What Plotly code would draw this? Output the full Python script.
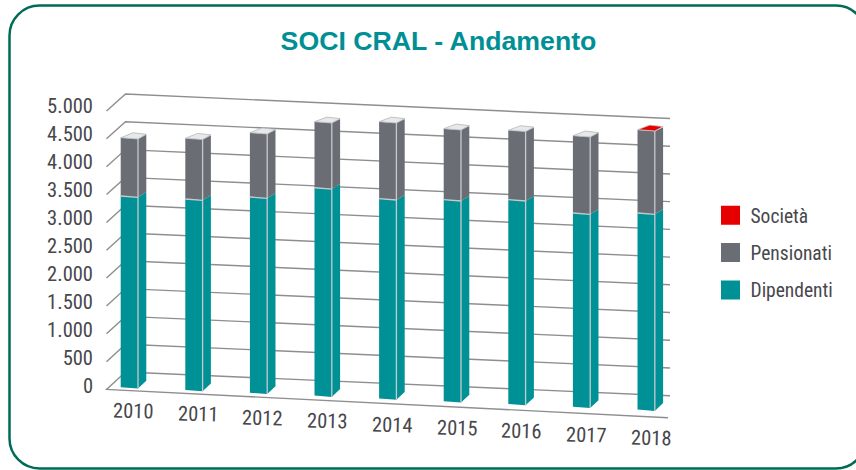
import plotly.graph_objects as go

# ---- data ----
categories = ["2010", "2011", "2012", "2013", "2014", "2015", "2016", "2017", "2018"]
dipendenti = [3433, 3429, 3515, 3732, 3585, 3618, 3668, 3479, 3530]
pensionati = [1046, 1090, 1155, 1185, 1383, 1274, 1246, 1388, 1490]
societa = [0, 0, 0, 0, 0, 0, 0, 0, 6]
axis_ticks = list(range(0, 5001, 500))

TEAL, GREY, RED = "#009196", "#6a6e74", "#e60000"
TEXT = "#47474c"
FONT = "Roboto Condensed, Roboto"
W, H = 856, 470
L, R, T, B = 94, 675, 80, 445      # plot area in page pixels
STEP, X0 = 64.6, 129.35            # pixels per category, centre of the first
VK = 0.056                         # pixels per unit on the value axis
Y0 = 386.0


def ax_x(px):
    return (px - X0) / STEP


def ax_y(py):
    return (Y0 - py) / VK


# pseudo-3D projection: floor and walls of the box
def wall_lines():
    xs, ys = [], []
    for v in axis_ticks:
        front = 389.5 - 0.0557 * v
        back_l = 372.0 - 0.0556 * v
        back_r = 395.7 - 0.05544 * v
        xs += [ax_x(106.5), ax_x(125.5), ax_x(670), None]
        ys += [ax_y(front), ax_y(back_l), ax_y(back_r), None]
    xs += [ax_x(105.5), ax_x(668)]
    ys += [ax_y(389.4), ax_y(417.7)]
    return xs, ys


BAR_W = 17.3
BAR_K = 0.0557


def bar_left(i):
    return 120.7 + STEP * i


def bar_base(i):
    return 387.2 + 2.8 * i


def side_dy(v):
    return -7.8 + 0.00075 * v


def front_y(i, v, right=False):
    return bar_base(i) - BAR_K * v + (1.3 if right else 0.0)


def segment(i, v0, v1):
    """Front and side faces of one stacked block."""
    x0, x1 = bar_left(i), bar_left(i) + BAR_W
    x2 = x1 + 8.3
    front = [(x0, front_y(i, v0)), (x1, front_y(i, v0, True)),
             (x1, front_y(i, v1, True)), (x0, front_y(i, v1)), (x0, front_y(i, v0))]
    side = [(x1, front_y(i, v0, True)), (x2, front_y(i, v0, True) + side_dy(v0)),
            (x2, front_y(i, v1, True) + side_dy(v1)), (x1, front_y(i, v1, True)),
            (x1, front_y(i, v0, True))]
    return front, side


def top_face(i, v):
    x0, x1 = bar_left(i), bar_left(i) + BAR_W
    dy = side_dy(v)
    return [(x0, front_y(i, v)), (x1, front_y(i, v, True)),
            (x1 + 8.3, front_y(i, v, True) + dy - 0.3),
            (x0 + 12.3, front_y(i, v) + dy - 0.5), (x0, front_y(i, v))]


def poly_trace(polys, color, line_color=None, line_w=0.0):
    xs, ys = [], []
    for p in polys:
        xs += [ax_x(a) for a, _ in p] + [None]
        ys += [ax_y(b) for _, b in p] + [None]
    return go.Scatter(x=xs, y=ys, mode="lines", fill="toself", fillcolor=color,
                      line=dict(color=line_color or color, width=line_w),
                      showlegend=False, hoverinfo="skip")


fig = go.Figure()

# walls
wx, wy = wall_lines()
fig.add_trace(go.Scatter(x=wx, y=wy, mode="lines", line=dict(color="#8e8e90", width=1.4),
                         showlegend=False, hoverinfo="skip"))

# bars
for i, year in enumerate(categories):
    d, p, s = dipendenti[i], pensionati[i], societa[i]
    fd, sd = segment(i, 0, d)
    fp, sp = segment(i, d, d + p)
    fig.add_trace(poly_trace([fd, sd], TEAL))
    fig.add_trace(poly_trace([fp, sp], GREY))
    top = d + p + s
    if s > 0:
        fig.add_trace(poly_trace([top_face(i, top)], RED, "#c9ccd0", 0.8))
    else:
        fig.add_trace(poly_trace([top_face(i, top)], "#e6e8ea", "#b4b7bb", 0.8))
    # pale front-right edge and pale seam
    ex = bar_left(i) + BAR_W
    fig.add_trace(go.Scatter(
        x=[ax_x(ex), ax_x(ex), None, ax_x(bar_left(i)), ax_x(ex)],
        y=[ax_y(front_y(i, 0, True)), ax_y(front_y(i, top, True)), None,
           ax_y(front_y(i, d)), ax_y(front_y(i, d, True))],
        mode="lines", line=dict(color="#c6cacd", width=1.3),
        showlegend=False, hoverinfo="skip"))

# legend entries
for name, color in [("Società", RED), ("Pensionati", GREY), ("Dipendenti", TEAL)]:
    fig.add_trace(go.Scatter(x=[None], y=[None], mode="markers", name=name, legendgroup=name,
                             marker=dict(symbol="square", size=16, color=color,
                                         line=dict(color=color, width=3))))

# year labels
annotations = [
    dict(x=ax_x(133 + 64.7 * i), y=ax_y(411 + 3.4 * i), text=year, showarrow=False,
         xref="x", yref="y", textangle=1.5,
         font=dict(family=FONT, size=20.5, color=TEXT, weight=400))
    for i, year in enumerate(categories)
]


# frame, written in page pixels and turned into paper coordinates
def pap(px, py):
    return f"{(px - L) / (R - L):.5f},{(B - py) / (B - T):.5f}"


fl, ft, fr, fb, rad = 9.5, 5.5, 866, 468.5, 30
kap = rad * 0.45
frame = (f"M {pap(fl + rad, ft)} L {pap(fr - rad, ft)} "
         f"C {pap(fr - kap, ft)} {pap(fr, ft + kap)} {pap(fr, ft + rad)} "
         f"L {pap(fr, fb - rad)} C {pap(fr, fb - kap)} {pap(fr - kap, fb)} {pap(fr - rad, fb)} "
         f"L {pap(fl + rad, fb)} C {pap(fl + kap, fb)} {pap(fl, fb - kap)} {pap(fl, fb - rad)} "
         f"L {pap(fl, ft + rad)} C {pap(fl, ft + kap)} {pap(fl + kap, ft)} {pap(fl + rad, ft)} Z")

fig.update_layout(
    width=W, height=H,
    margin=dict(l=L, r=W - R, t=T, b=H - B),
    paper_bgcolor="white", plot_bgcolor="white",
    separators=",.",
    hovermode=False,
    title=dict(text="<b>SOCI CRAL - Andamento</b>", x=438.5 / W, xanchor="center",
               y=1 - 41 / H, yanchor="middle",
               font=dict(family="Liberation Sans", size=26.7, color="#008f94")),
    xaxis=dict(range=[ax_x(L), ax_x(R)], visible=False, fixedrange=True),
    yaxis=dict(range=[ax_y(B), ax_y(T)], tickmode="array", tickvals=axis_ticks,
               tickformat=",d", showgrid=False, zeroline=False, showline=False,
               ticks="", fixedrange=True,
               tickfont=dict(family=FONT, size=20.5, color=TEXT, weight=400)),
    legend=dict(x=(710.5 - L) / (R - L), xanchor="left", y=(B - 196) / (B - T), yanchor="top",
                font=dict(family=FONT, size=19.5, color=TEXT, weight=400),
                tracegroupgap=9, traceorder="grouped", bgcolor="rgba(0,0,0,0)"),
    annotations=annotations,
    shapes=[dict(type="path", path=frame, xref="paper", yref="paper", layer="below",
                 line=dict(color="#006b55", width=2.5))],
)

fig.write_html("out.html", post_script="document.body.style.margin='0';",
               config=dict(displayModeBar=False))
